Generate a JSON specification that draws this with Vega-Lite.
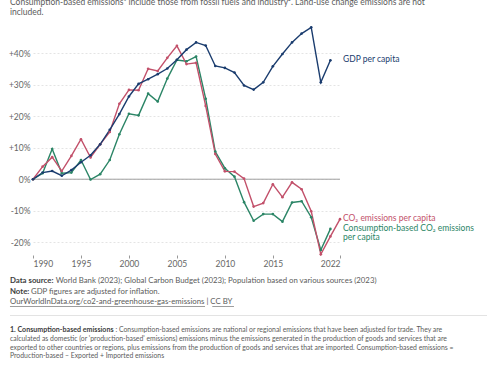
{
  "$schema": "https://vega.github.io/schema/vega-lite/v6.json",
  "width": 307,
  "height": 228,
  "autosize": {"type": "none"},
  "padding": {"left": 33, "top": 27, "right": 157, "bottom": 111},
  "background": "white",
  "config": {
    "view": {"stroke": null},
    "font": "Lato",
    "text": {"font": "Lato"},
    "axisY": {
      "labelExpr": "datum.value > 0 ? '+' + datum.value + '%' : datum.value + '%'",
      "labelOverlap": false,
      "domain": false, "ticks": false, "grid": true, "gridColor": "#dddddd", "gridDash": [2, 2],
      "gridWidth": 0.8,
      "labelColor": "#666666", "labelFont": "Lato", "labelFontSize": 8.5, "labelPadding": 3
    },
    "axisX": {
      "labelFlush": true, "labelOverlap": false, "domain": false, "grid": false, "ticks": true, "tickSize": 3,
      "tickColor": "#999999", "labelColor": "#666666", "labelFont": "Lato", "labelFontSize": 8.5,
      "labelPadding": 1
    }
  },
  "title": {
    "text": ["Consumption-based emissions¹ include those from fossil fuels and industry². Land-use change emissions are not", "included."],
    "anchor": "start",
    "frame": "group",
    "dx": -23,
    "offset": 8,
    "font": "Lato",
    "fontSize": 8.5,
    "fontWeight": "normal",
    "color": "#5b5b5b",
    "lineHeight": 10
  },
  "datasets": {
    "main": [
      {"year": 1990, "series": "Consumption-based CO₂ emissions\nper capita", "value": 0},
      {"year": 1991, "series": "Consumption-based CO₂ emissions\nper capita", "value": 1.9},
      {"year": 1992, "series": "Consumption-based CO₂ emissions\nper capita", "value": 9.6},
      {"year": 1993, "series": "Consumption-based CO₂ emissions\nper capita", "value": 1.9},
      {"year": 1994, "series": "Consumption-based CO₂ emissions\nper capita", "value": 2.1},
      {"year": 1995, "series": "Consumption-based CO₂ emissions\nper capita", "value": 6.1},
      {"year": 1996, "series": "Consumption-based CO₂ emissions\nper capita", "value": -0.1},
      {"year": 1997, "series": "Consumption-based CO₂ emissions\nper capita", "value": 1.6},
      {"year": 1998, "series": "Consumption-based CO₂ emissions\nper capita", "value": 6.1},
      {"year": 1999, "series": "Consumption-based CO₂ emissions\nper capita", "value": 14.3},
      {"year": 2000, "series": "Consumption-based CO₂ emissions\nper capita", "value": 20.8},
      {"year": 2001, "series": "Consumption-based CO₂ emissions\nper capita", "value": 20.3},
      {"year": 2002, "series": "Consumption-based CO₂ emissions\nper capita", "value": 27.2},
      {"year": 2003, "series": "Consumption-based CO₂ emissions\nper capita", "value": 24.7},
      {"year": 2004, "series": "Consumption-based CO₂ emissions\nper capita", "value": 32.0},
      {"year": 2005, "series": "Consumption-based CO₂ emissions\nper capita", "value": 37.9},
      {"year": 2006, "series": "Consumption-based CO₂ emissions\nper capita", "value": 37.5},
      {"year": 2007, "series": "Consumption-based CO₂ emissions\nper capita", "value": 39.0},
      {"year": 2008, "series": "Consumption-based CO₂ emissions\nper capita", "value": 25.6},
      {"year": 2009, "series": "Consumption-based CO₂ emissions\nper capita", "value": 8.8},
      {"year": 2010, "series": "Consumption-based CO₂ emissions\nper capita", "value": 3.5},
      {"year": 2011, "series": "Consumption-based CO₂ emissions\nper capita", "value": 0.8},
      {"year": 2012, "series": "Consumption-based CO₂ emissions\nper capita", "value": -7.3},
      {"year": 2013, "series": "Consumption-based CO₂ emissions\nper capita", "value": -13.2},
      {"year": 2014, "series": "Consumption-based CO₂ emissions\nper capita", "value": -11.1},
      {"year": 2015, "series": "Consumption-based CO₂ emissions\nper capita", "value": -11.1},
      {"year": 2016, "series": "Consumption-based CO₂ emissions\nper capita", "value": -13.5},
      {"year": 2017, "series": "Consumption-based CO₂ emissions\nper capita", "value": -7.4},
      {"year": 2018, "series": "Consumption-based CO₂ emissions\nper capita", "value": -7.0},
      {"year": 2019, "series": "Consumption-based CO₂ emissions\nper capita", "value": -12.1},
      {"year": 2020, "series": "Consumption-based CO₂ emissions\nper capita", "value": -22.5},
      {"year": 2021, "series": "Consumption-based CO₂ emissions\nper capita", "value": -15.8},
      {"year": 1990, "series": "CO₂ emissions per capita", "value": 0},
      {"year": 1991, "series": "CO₂ emissions per capita", "value": 4.0},
      {"year": 1992, "series": "CO₂ emissions per capita", "value": 7.0},
      {"year": 1993, "series": "CO₂ emissions per capita", "value": 2.6},
      {"year": 1994, "series": "CO₂ emissions per capita", "value": 7.4},
      {"year": 1995, "series": "CO₂ emissions per capita", "value": 12.7},
      {"year": 1996, "series": "CO₂ emissions per capita", "value": 6.9},
      {"year": 1997, "series": "CO₂ emissions per capita", "value": 11.1},
      {"year": 1998, "series": "CO₂ emissions per capita", "value": 15.0},
      {"year": 1999, "series": "CO₂ emissions per capita", "value": 24.0},
      {"year": 2000, "series": "CO₂ emissions per capita", "value": 28.4},
      {"year": 2001, "series": "CO₂ emissions per capita", "value": 28.3},
      {"year": 2002, "series": "CO₂ emissions per capita", "value": 35.1},
      {"year": 2003, "series": "CO₂ emissions per capita", "value": 34.4},
      {"year": 2004, "series": "CO₂ emissions per capita", "value": 38.6},
      {"year": 2005, "series": "CO₂ emissions per capita", "value": 42.4},
      {"year": 2006, "series": "CO₂ emissions per capita", "value": 36.6},
      {"year": 2007, "series": "CO₂ emissions per capita", "value": 37.0},
      {"year": 2008, "series": "CO₂ emissions per capita", "value": 23.3},
      {"year": 2009, "series": "CO₂ emissions per capita", "value": 8.0},
      {"year": 2010, "series": "CO₂ emissions per capita", "value": 2.5},
      {"year": 2011, "series": "CO₂ emissions per capita", "value": 2.4},
      {"year": 2012, "series": "CO₂ emissions per capita", "value": 0.2},
      {"year": 2013, "series": "CO₂ emissions per capita", "value": -8.7},
      {"year": 2014, "series": "CO₂ emissions per capita", "value": -7.6},
      {"year": 2015, "series": "CO₂ emissions per capita", "value": -1.6},
      {"year": 2016, "series": "CO₂ emissions per capita", "value": -5.7},
      {"year": 2017, "series": "CO₂ emissions per capita", "value": -1.0},
      {"year": 2018, "series": "CO₂ emissions per capita", "value": -3.2},
      {"year": 2019, "series": "CO₂ emissions per capita", "value": -10.2},
      {"year": 2020, "series": "CO₂ emissions per capita", "value": -23.9},
      {"year": 2021, "series": "CO₂ emissions per capita", "value": -18.2},
      {"year": 2022, "series": "CO₂ emissions per capita", "value": -12.7},
      {"year": 1990, "series": "GDP per capita", "value": 0},
      {"year": 1991, "series": "GDP per capita", "value": 2.1},
      {"year": 1992, "series": "GDP per capita", "value": 2.6},
      {"year": 1993, "series": "GDP per capita", "value": 1.1},
      {"year": 1994, "series": "GDP per capita", "value": 2.9},
      {"year": 1995, "series": "GDP per capita", "value": 5.4},
      {"year": 1996, "series": "GDP per capita", "value": 7.6},
      {"year": 1997, "series": "GDP per capita", "value": 11.1},
      {"year": 1998, "series": "GDP per capita", "value": 15.7},
      {"year": 1999, "series": "GDP per capita", "value": 20.7},
      {"year": 2000, "series": "GDP per capita", "value": 26.3},
      {"year": 2001, "series": "GDP per capita", "value": 30.3},
      {"year": 2002, "series": "GDP per capita", "value": 31.8},
      {"year": 2003, "series": "GDP per capita", "value": 33.4},
      {"year": 2004, "series": "GDP per capita", "value": 35.2},
      {"year": 2005, "series": "GDP per capita", "value": 38.0},
      {"year": 2006, "series": "GDP per capita", "value": 41.2},
      {"year": 2007, "series": "GDP per capita", "value": 43.5},
      {"year": 2008, "series": "GDP per capita", "value": 42.5},
      {"year": 2009, "series": "GDP per capita", "value": 36.0},
      {"year": 2010, "series": "GDP per capita", "value": 35.4},
      {"year": 2011, "series": "GDP per capita", "value": 33.9},
      {"year": 2012, "series": "GDP per capita", "value": 29.8},
      {"year": 2013, "series": "GDP per capita", "value": 28.5},
      {"year": 2014, "series": "GDP per capita", "value": 30.8},
      {"year": 2015, "series": "GDP per capita", "value": 35.9},
      {"year": 2016, "series": "GDP per capita", "value": 39.8},
      {"year": 2017, "series": "GDP per capita", "value": 43.5},
      {"year": 2018, "series": "GDP per capita", "value": 46.3},
      {"year": 2019, "series": "GDP per capita", "value": 48.3},
      {"year": 2020, "series": "GDP per capita", "value": 30.8},
      {"year": 2021, "series": "GDP per capita", "value": 37.8}
    ]
  },
  "encoding": {
    "x": {
      "type": "quantitative",
      "scale": {"domain": [1990, 2022], "nice": false, "zero": false},
      "axis": {"title": null, "values": [1990, 1995, 2000, 2005, 2010, 2015, 2022], "format": "d"}
    },
    "y": {
      "type": "quantitative",
      "scale": {"domain": [-24.1, 48.4], "nice": false, "zero": false},
      "axis": {"title": null, "values": [-20, -10, 0, 10, 20, 30, 40]}
    }
  },
  "layer": [
    {
      "data": {"values": [{"v": 0}]},
      "mark": {"type": "rule", "color": "#a0a0a0", "strokeWidth": 1},
      "encoding": {
        "x": null,
        "y": {"field": "v", "type": "quantitative", "axis": {"title": null, "values": [-20, -10, 0, 10, 20, 30, 40]}}
      }
    },
    {
      "data": {"name": "main"},
      "mark": {"type": "line", "strokeWidth": 1.4},
      "encoding": {
        "x": {"field": "year", "type": "quantitative", "axis": {"title": null, "values": [1990, 1995, 2000, 2005, 2010, 2015, 2022], "format": "d"}},
        "y": {"field": "value", "type": "quantitative", "axis": {"title": null, "values": [-20, -10, 0, 10, 20, 30, 40]}},
        "color": {
          "field": "series", "type": "nominal", "legend": null,
          "scale": {
            "domain": ["GDP per capita", "CO₂ emissions per capita", "Consumption-based CO₂ emissions\nper capita"],
            "range": ["#1a3c6e", "#c2506a", "#2b8566"]
          }
        }
      }
    },
    {
      "data": {"name": "main"},
      "mark": {"type": "point", "filled": true, "size": 7, "opacity": 1},
      "encoding": {
        "x": {"field": "year", "type": "quantitative", "axis": {"title": null, "values": [1990, 1995, 2000, 2005, 2010, 2015, 2022], "format": "d"}},
        "y": {"field": "value", "type": "quantitative", "axis": {"title": null, "values": [-20, -10, 0, 10, 20, 30, 40]}},
        "color": {"field": "series", "type": "nominal", "legend": null}
      }
    },
    {
      "data": {"name": "main"},
      "transform": [
        {"joinaggregate": [{"op": "max", "field": "year", "as": "lastYear"}], "groupby": ["series"]},
        {"filter": "datum.year == datum.lastYear"}
      ],
      "mark": {"type": "text", "align": "left", "baseline": "top", "dx": 3, "dy": -5, "fontSize": 8.5, "font": "Lato", "lineBreak": "\n", "lineHeight": 9},
      "encoding": {
        "x": {"datum": 2022, "type": "quantitative"},
        "y": {"field": "value", "type": "quantitative", "axis": {"title": null, "values": [-20, -10, 0, 10, 20, 30, 40]}},
        "text": {"field": "series"},
        "color": {"field": "series", "type": "nominal", "legend": null}
      }
    },
    {
      "data": {"values": [{"t": "Data source:"}]},
      "mark": {"type": "text", "align": "left", "baseline": "middle", "fontSize": 7.8, "fontWeight": "bold", "color": "#3d3d3d", "font": "Lato"},
      "encoding": {"x": {"datum": 1987.6, "type": "quantitative"}, "y": {"datum": -32.37, "type": "quantitative"}, "text": {"field": "t"}}
    },
    {
      "data": {"values": [{"t": "World Bank (2023); Global Carbon Budget (2023); Population based on various sources (2023)"}]},
      "mark": {"type": "text", "align": "left", "baseline": "middle", "dx": 45.7, "fontSize": 7.8, "color": "#5b5b5b", "font": "Lato"},
      "encoding": {"x": {"datum": 1987.6, "type": "quantitative"}, "y": {"datum": -32.37, "type": "quantitative"}, "text": {"field": "t"}}
    },
    {
      "data": {"values": [{"t": "Note:"}]},
      "mark": {"type": "text", "align": "left", "baseline": "middle", "fontSize": 7.8, "fontWeight": "bold", "color": "#3d3d3d", "font": "Lato"},
      "encoding": {"x": {"datum": 1987.6, "type": "quantitative"}, "y": {"datum": -35.77, "type": "quantitative"}, "text": {"field": "t"}}
    },
    {
      "data": {"values": [{"t": "GDP figures are adjusted for inflation."}]},
      "mark": {"type": "text", "align": "left", "baseline": "middle", "dx": 21, "fontSize": 7.8, "color": "#5b5b5b", "font": "Lato"},
      "encoding": {"x": {"datum": 1987.6, "type": "quantitative"}, "y": {"datum": -35.77, "type": "quantitative"}, "text": {"field": "t"}}
    },
    {
      "data": {"values": [{"t": "OurWorldInData.org/co2-and-greenhouse-gas-emissions | CC BY"}]},
      "mark": {"type": "text", "align": "left", "baseline": "middle", "fontSize": 7.8, "color": "#5b5b5b", "font": "Lato"},
      "encoding": {"x": {"datum": 1987.6, "type": "quantitative"}, "y": {"datum": -39.14, "type": "quantitative"}, "text": {"field": "t"}}
    },
    {
      "data": {"values": [{"a": 1987.6, "b": 2007.93}, {"a": 2008.69, "b": 2010.95}]},
      "mark": {"type": "rule", "color": "#5b5b5b", "strokeWidth": 0.6},
      "encoding": {"x": {"field": "a", "type": "quantitative"}, "x2": {"field": "b"}, "y": {"datum": -40.48, "type": "quantitative"}}
    },
    {
      "data": {"values": [{"a": 1987.6, "b": 2037.32}]},
      "mark": {"type": "rule", "color": "#e3e3e3", "strokeWidth": 1},
      "encoding": {"x": {"field": "a", "type": "quantitative"}, "x2": {"field": "b"}, "y": {"datum": -43.34, "type": "quantitative"}}
    },
    {
      "data": {"values": [{"t": "1. Consumption-based emissions"}]},
      "mark": {"type": "text", "align": "left", "baseline": "middle", "fontSize": 7.1, "fontWeight": "bold", "color": "#3d3d3d", "font": "Lato"},
      "encoding": {"x": {"datum": 1987.6, "type": "quantitative"}, "y": {"datum": -47.95, "type": "quantitative"}, "text": {"field": "t"}}
    },
    {
      "data": {"values": [{"t": ": Consumption-based emissions are national or regional emissions that have been adjusted for trade. They are"}]},
      "mark": {"type": "text", "align": "left", "baseline": "middle", "dx": 105.5, "fontSize": 6.85, "color": "#5b5b5b", "font": "Lato"},
      "encoding": {"x": {"datum": 1987.6, "type": "quantitative"}, "y": {"datum": -47.95, "type": "quantitative"}, "text": {"field": "t"}}
    },
    {
      "data": {"values": [{"t": "calculated as domestic (or 'production-based' emissions) emissions minus the emissions generated in the production of goods and services that are\nexported to other countries or regions, plus emissions from the production of goods and services that are imported. Consumption-based emissions =\nProduction-based – Exported + Imported emissions"}]},
      "mark": {"type": "text", "align": "left", "baseline": "middle", "fontSize": 6.85, "color": "#5b5b5b", "font": "Lato", "lineBreak": "\n", "lineHeight": 8.7},
      "encoding": {"x": {"datum": 1987.6, "type": "quantitative"}, "y": {"datum": -50.81, "type": "quantitative"}, "text": {"field": "t"}}
    }
  ]
}
